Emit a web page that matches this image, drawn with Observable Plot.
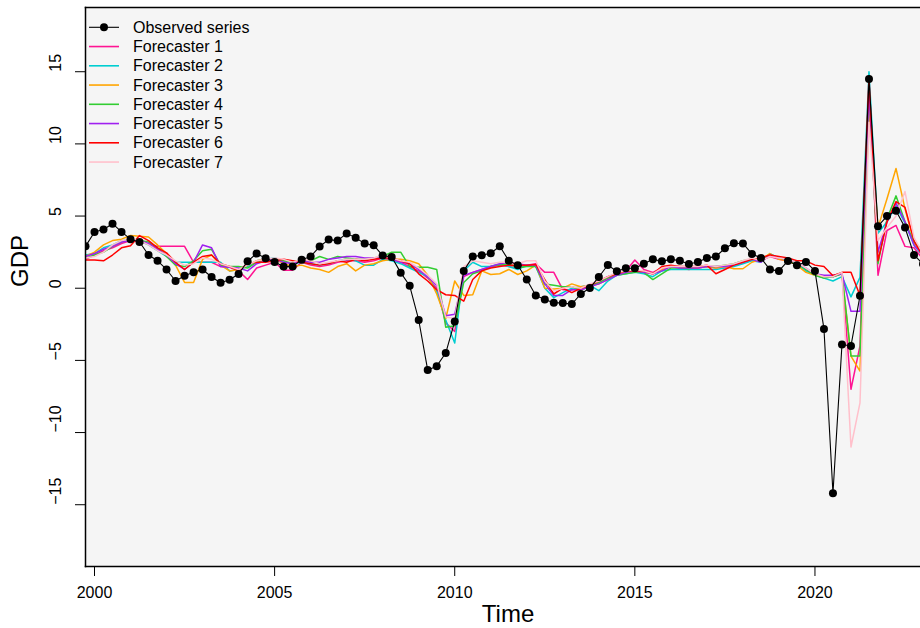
<!DOCTYPE html>
<html>
<head>
<meta charset="utf-8">
<script src="https://cdn.jsdelivr.net/npm/d3@7"></script>
<script src="https://cdn.jsdelivr.net/npm/@observablehq/plot@0.6"></script>
<style>
  body { margin: 0; background: #ffffff; }
  #chart { width: 920px; height: 628px; overflow: hidden; }
  #chart svg { display: block; }
</style>
</head>
<body>
<div id="chart"></div>
<script>
// Quarterly GDP growth, 1999 Q4 onwards, with seven forecasters' predictions.
const startYear = 1999.75;
const periodsPerYear = 4;

const observed = [
  2.9, 3.9, 4.07, 4.47, 3.9, 3.4, 3.2, 2.3, 1.9, 1.3,
  0.5, 0.87, 1.1, 1.3, 0.78, 0.38, 0.59, 0.99, 1.87, 2.4,
  2.07, 1.82, 1.5, 1.5, 1.98, 2.2, 2.89, 3.37, 3.3, 3.8,
  3.49, 3.1, 2.98, 2.26, 2.17, 1.08, 0.17, -2.2, -5.67, -5.4,
  -4.49, -2.3, 1.2, 2.19, 2.28, 2.42, 2.91, 1.91, 1.59, 0.61,
  -0.5, -0.78, -1.0, -1.03, -1.1, -0.4, 0.01, 0.78, 1.61, 1.17,
  1.38, 1.38, 1.7, 2.0, 1.87, 2.0, 1.91, 1.68, 1.82, 2.1,
  2.19, 2.77, 3.12, 3.1, 2.38, 2.1, 1.29, 1.2, 1.89, 1.59,
  1.82, 1.2, -2.82, -14.2, -3.9, -4.0, -0.52, 14.49, 4.3, 5.0,
  5.37, 4.21, 2.31, 1.68
];

const forecaster1 = [
  2.0, 2.3, 2.6, 2.8, 3.1, 3.3, 3.2, 3.07, 2.9, 2.9,
  2.9, 2.9, 1.8, 1.8, 1.8, 1.5, 1.45, 1.2, 0.6, 1.4,
  1.6, 1.8, 1.25, 1.25, 1.8, 1.6, 1.5, 1.6, 1.8, 1.9,
  1.9, 1.8, 1.9, 2.1, 2.0, 1.8, 1.5, 1.2, 0.7, 0.0,
  -2.4, -3.0, 0.8, 1.1, 1.3, 1.5, 1.6, 1.5, 1.4, 1.6,
  1.7, 1.1, 1.1, -0.1, -0.1, 0.0, 0.1, 0.4, 0.8, 1.0,
  1.2, 1.95, 1.3, 1.1, 1.4, 1.5, 1.4, 1.3, 1.4, 1.5,
  1.4, 1.5, 1.6, 1.8, 2.0, 1.9, 2.2, 2.0, 1.9, 1.7,
  1.3, 1.0, 0.8, 0.8, 1.0, -7.0, -4.0, 14.6, 0.9, 4.0,
  4.35, 2.9, 2.8, 2.0
];

const forecaster2 = [
  2.3, 2.4, 2.8, 3.0, 3.3, 3.3, 3.3, 3.0, 2.6, 2.2,
  1.8, 1.8, 1.8, 1.8, 1.8, 1.8, 1.2, 1.3, 1.5, 1.9,
  2.0, 2.1, 1.9, 1.7, 1.8, 1.7, 1.6, 1.7, 1.9, 2.0,
  1.9, 1.6, 1.6, 2.0, 1.9, 1.7, 1.4, 1.1, 0.8, -0.2,
  -2.2, -3.8, 1.2, 1.8, 1.5, 1.5, 1.7, 1.5, 1.3, 1.6,
  1.5, 0.0, -0.65, -0.3, 0.0, 0.1, 0.2, -0.17, 0.5, 0.9,
  1.0, 1.1, 1.0, 0.8, 1.2, 1.3, 1.3, 1.3, 1.3, 1.3,
  1.3, 1.4, 1.5, 1.7, 1.9, 1.8, 2.4, 2.1, 1.9, 1.7,
  1.2, 0.9, 0.7, 0.5, 0.8, -0.6, 0.75, 15.0, 3.8, 4.6,
  5.7, 4.5, 3.0, 2.2
];

const forecaster3 = [
  2.2, 2.5, 3.0, 3.3, 3.4, 3.65, 3.6, 3.55, 3.0, 2.4,
  1.6, 0.4, 0.4, 2.0, 2.3, 1.6, 1.2, 1.3, 1.6, 1.9,
  2.0, 2.0, 1.7, 1.5, 1.6, 1.4, 1.3, 1.1, 1.5, 1.7,
  1.2, 1.6, 1.7, 1.9, 2.0, 2.0, 1.9, 1.7, 0.9, -0.4,
  -2.1, 0.5, -0.5, -0.45, 1.2, 0.95, 1.0, 1.3, 0.95, 1.2,
  1.6, 0.0, -0.06, 0.0, 0.3, 0.1, 0.2, 0.3, 0.6, 1.0,
  1.1, 1.2, 1.1, 1.0, 1.3, 1.5, 1.5, 1.4, 1.4, 1.5,
  1.4, 1.5, 1.35, 1.35, 1.8, 2.0, 2.4, 2.0, 1.9, 1.6,
  1.1, 0.9, 0.8, 0.9, 1.0, -4.7, -5.74, 12.3, 4.2, 6.2,
  8.3, 5.5, 3.2, 2.2
];

const forecaster4 = [
  2.1, 2.3, 2.5, 2.9, 3.2, 3.4, 3.3, 3.2, 2.8, 2.2,
  1.6, 1.5, 1.9, 2.6, 2.7, 1.6, 1.5, 1.5, 1.4, 1.8,
  1.9, 2.0, 1.9, 1.8, 1.9, 1.9, 2.2, 2.0, 2.2, 2.1,
  2.0, 2.0, 2.1, 2.2, 2.5, 2.5, 1.5, 1.45, 1.45, 1.3,
  -2.7, -2.6, 0.4, 1.0, 1.2, 1.5, 1.6, 1.7, 1.4, 1.5,
  1.5, 0.3, 0.2, 0.1, 0.1, -0.1, 0.1, 0.4, 0.7, 0.9,
  1.0, 1.1, 1.1, 0.6, 1.0, 1.4, 1.4, 1.35, 1.5, 1.5,
  1.5, 1.6, 1.7, 1.9, 2.0, 1.9, 2.3, 2.1, 2.0, 1.8,
  1.3, 0.9, 0.7, 0.8, 1.0, -4.7, -4.7, 13.8, 1.7, 4.8,
  6.4, 4.6, 3.2, 2.6
];

const forecaster5 = [
  2.2, 2.4, 2.7, 2.9, 3.2, 3.3, 3.3, 3.1, 2.7, 2.3,
  1.7, 1.3, 1.8, 3.0, 2.8, 1.5, 1.45, 1.4, 1.2, 1.7,
  1.9, 2.0, 1.8, 1.7, 1.9, 1.8, 1.8, 2.0, 2.1, 2.2,
  2.2, 2.1, 2.1, 2.1, 2.0, 1.8, 1.7, 1.3, 0.8, 0.2,
  -1.9, -1.8, 0.9, 1.1, 1.3, 1.5, 1.7, 1.8, 1.7, 1.6,
  1.6, 0.3, -0.5, -0.5, -0.1, -0.1, 0.1, 0.3, 0.6, 0.9,
  1.1, 1.2, 1.1, 1.0, 1.2, 1.5, 1.4, 1.4, 1.4, 1.5,
  1.5, 1.5, 1.6, 1.8, 2.0, 1.8, 2.3, 2.1, 2.0, 1.8,
  1.4, 1.0, 0.9, 0.9, 1.0, -1.6, -1.6, 13.5, 2.5, 4.6,
  5.9, 4.6, 3.0, 2.3
];

const forecaster6 = [
  1.95, 1.95, 1.9, 2.3, 2.8, 2.95, 3.65, 3.3, 2.8, 2.45,
  1.8, 1.3, 1.8, 2.2, 2.3, 1.7, 1.5, 1.2, 1.7, 1.8,
  1.8, 1.9, 2.0, 1.9, 1.8, 1.7, 1.6, 1.7, 1.9, 1.8,
  2.0, 1.9, 2.0, 2.1, 2.1, 1.9, 1.7, 1.0, 0.5, -0.1,
  -0.45, -0.5, -0.9, 0.6, 1.2, 1.4, 1.5, 1.6, 1.6, 1.6,
  1.65, 0.6, -0.4, 0.0, -0.3, 0.0, 0.2, 0.5, 0.8, 1.0,
  1.2, 1.2, 1.2, 1.0, 1.5, 1.6, 1.5, 1.5, 1.5, 1.6,
  1.0, 1.3, 1.6, 1.8, 2.0, 2.1, 2.3, 2.2, 2.1, 1.9,
  1.9, 1.6, 1.5, 0.87, 1.1, 1.1, -0.5, 14.6, 1.9, 4.6,
  6.0, 5.6, 3.3, 2.2
];

const forecaster7 = [
  2.1, 2.2, 2.5, 3.0, 3.3, 3.4, 3.3, 3.0, 2.6, 2.3,
  1.9, 1.6, 1.7, 2.1, 2.0, 1.7, 1.5, 1.3, 1.6, 1.9,
  2.0, 2.1, 2.0, 1.8, 2.0, 1.9, 1.7, 1.8, 1.9, 2.0,
  2.0, 2.0, 2.1, 2.3, 2.1, 1.9, 1.8, 1.4, 0.9, 0.3,
  -2.0, -2.1, 1.5, 1.9, 1.8, 1.7, 1.8, 1.8, 1.7, 1.9,
  1.9, 0.5, -0.2, 0.0, 0.1, 0.0, 0.3, 0.5, 0.8, 1.1,
  1.2, 1.3, 1.2, 1.0, 1.4, 1.5, 1.5, 1.5, 1.5, 1.6,
  1.5, 1.6, 1.7, 1.9, 2.1, 1.9, 2.2, 2.1, 2.0, 1.8,
  1.4, 1.0, 0.8, 0.8, 1.1, -11.0, -7.95, 11.5, 3.3, 4.2,
  5.0, 6.7, 3.5, 2.4
];

const observedName = "Observed series";
const forecasterNames = ["Forecaster 1", "Forecaster 2", "Forecaster 3", "Forecaster 4",
                         "Forecaster 5", "Forecaster 6", "Forecaster 7"];
const forecasterColors = ["#FF1493", "#00CED1", "#FFA500", "#32CD32", "#A020F0", "#FF0000", "#FFC0CB"];
const xTicks = [2000, 2005, 2010, 2015, 2020];
const yTicks = [-15, -10, -5, 0, 5, 10, 15];

// Long-format tables for the marks
const quarter = i => startYear + i / periodsPerYear;
const forecastSeries = [forecaster1, forecaster2, forecaster3, forecaster4, forecaster5, forecaster6, forecaster7];
const forecastRows = forecastSeries.flatMap((values, k) =>
  values.map((v, i) => ({time: quarter(i), value: v, series: forecasterNames[k]})));
const observedRows = observed.map((v, i) => ({time: quarter(i), value: v}));

const minus = d => (d < 0 ? "\u2212" + Math.abs(d) : String(d));
const fontFamily = "'Liberation Sans', Arial, Helvetica, sans-serif";

const chart = Plot.plot({
  width: 920,
  height: 628,
  marginLeft: 85,
  marginRight: 0,
  marginTop: 7,
  marginBottom: 62,
  style: {fontFamily, fontSize: "16px", background: "#ffffff", color: "#000000"},
  x: {domain: [1999.75, 2022.93]},
  y: {domain: [-19.28, 19.45]},
  color: {domain: forecasterNames, range: forecasterColors},
  marks: [
    Plot.frame({fill: "#f5f5f5", stroke: "none"}),
    Plot.line(forecastRows, {x: "time", y: "value", z: "series", stroke: "series", strokeWidth: 1.5, clip: true}),
    Plot.line(observedRows, {x: "time", y: "value", stroke: "#000000", strokeWidth: 1.1, clip: true}),
    Plot.dot(observedRows, {x: "time", y: "value", r: 4, fill: "#000000", stroke: "none", clip: true}),
    // box on the left, top and bottom
    Plot.frame({anchor: "left", stroke: "#000000", strokeWidth: 1.5}),
    Plot.frame({anchor: "top", stroke: "#000000", strokeWidth: 1.5}),
    Plot.frame({anchor: "bottom", stroke: "#000000", strokeWidth: 1.5}),
    Plot.axisX(xTicks, {anchor: "bottom", tickSize: 10, tickPadding: 10.5, tickFormat: d => String(d), fontSize: 16, label: null}),
    Plot.axisY(yTicks, {anchor: "left", tickSize: 10, fill: "none", stroke: "#000000", label: null}),
    Plot.text(yTicks, {y: d => d, text: minus, frameAnchor: "left", dx: -29.5, rotate: -90, fontSize: 16}),
    Plot.text(["Time"], {frameAnchor: "bottom", dx: 5, dy: 55, fontSize: 24}),
    Plot.text(["GDP"], {frameAnchor: "left", dx: -65, rotate: -90, fontSize: 24})
  ]
});

// Legend in the top-left corner of the panel
const legendNames = [observedName, ...forecasterNames];
const legendColors = ["#000000", ...forecasterColors];
const legend = d3.select(chart).append("g")
  .attr("font-family", fontFamily)
  .attr("font-size", 16)
  .attr("text-anchor", "start")
  .attr("fill", "#000000");
const item = legend.selectAll("g")
  .data(legendNames)
  .join("g")
  .attr("transform", (d, i) => `translate(89,${27.3 + i * 19.25})`);
item.append("line")
  .attr("x1", 0).attr("x2", 30)
  .attr("stroke", (d, i) => legendColors[i])
  .attr("stroke-width", (d, i) => (i === 0 ? 1.1 : 1.6));
item.filter((d, i) => i === 0).append("circle")
  .attr("cx", 15).attr("r", 4).attr("fill", "#000000");
item.append("text")
  .attr("x", 44)
  .attr("dy", "0.35em")
  .attr("text-anchor", "start")
  .text(d => d);

document.getElementById("chart").appendChild(chart);
</script>
</body>
</html>
